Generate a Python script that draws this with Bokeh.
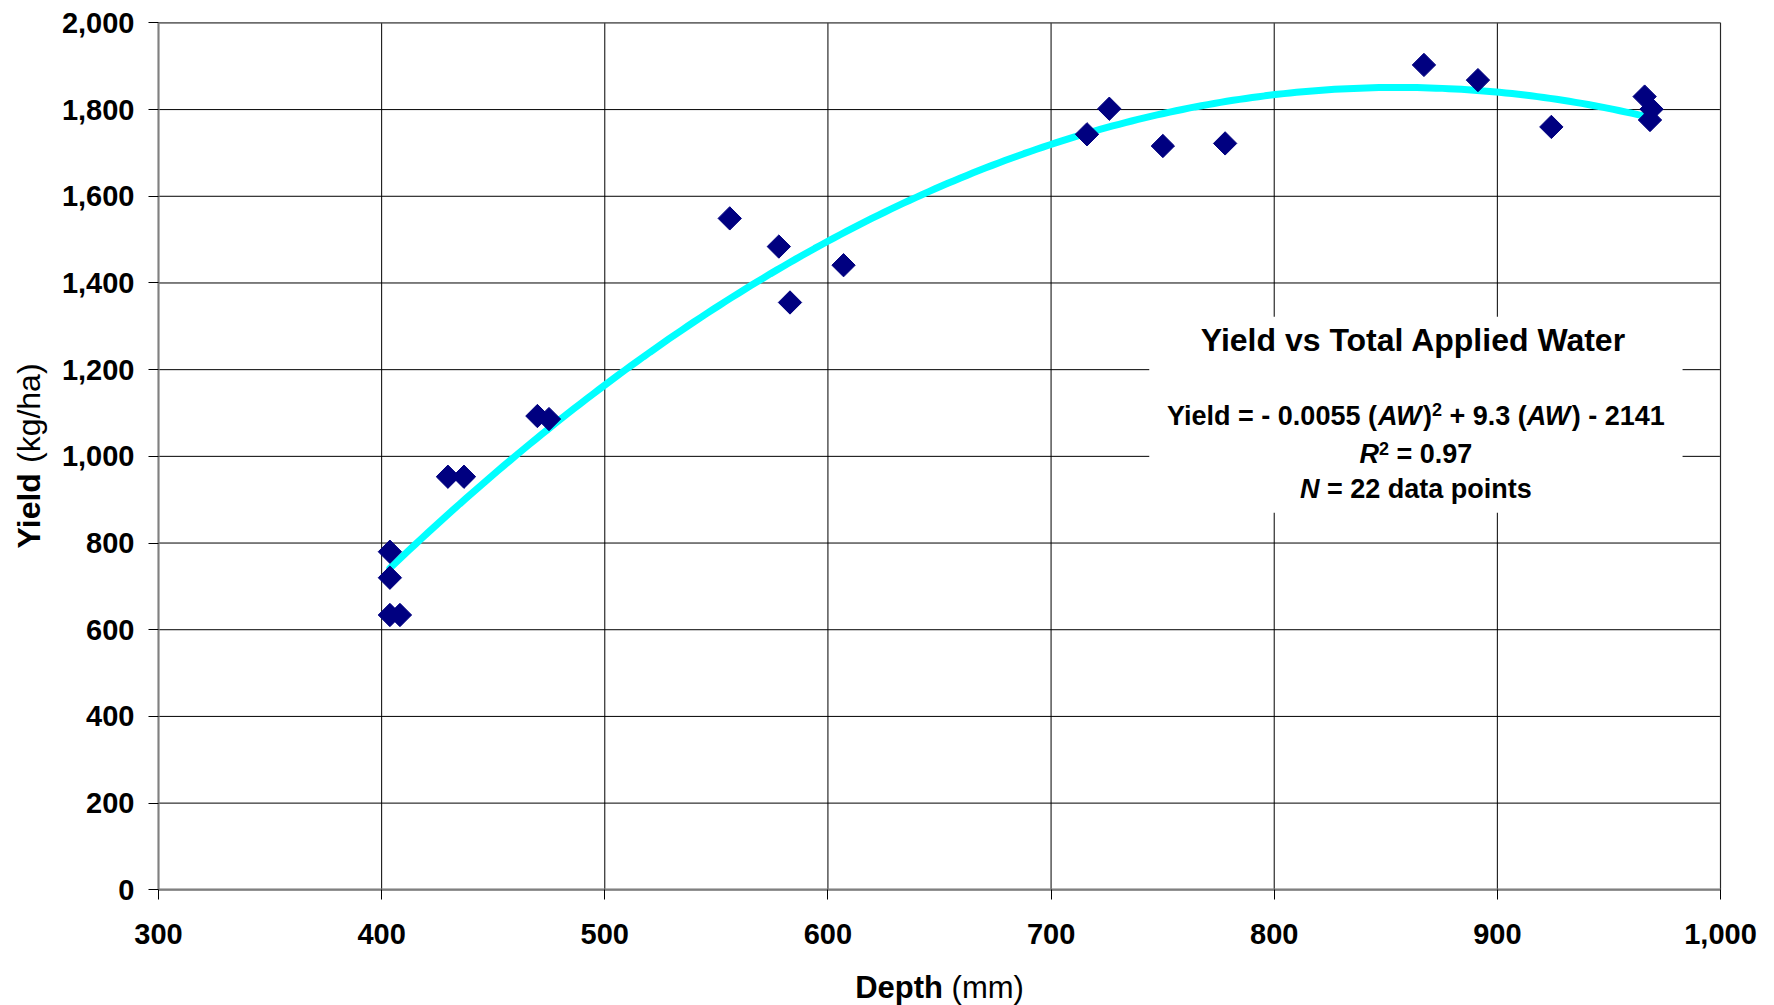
import numpy as np
from bokeh.plotting import figure
from bokeh.models import Range1d, Label, BoxAnnotation, NumeralTickFormatter
from bokeh.embed import file_html
from bokeh.resources import INLINE

# ---- data ----
depth = [403.7, 403.7, 403.7, 408.2, 429.7, 436.9, 469.8, 475.0, 556.0, 578.0, 583.0,
         607.0, 716.1, 726.1, 750.1, 778.0, 867.1, 891.3, 924.2, 966.0, 969.1, 968.4]
yield_kg = [780, 720, 634, 634, 953, 953, 1093, 1086, 1549, 1484, 1355,
            1441, 1743, 1802, 1716, 1722, 1903, 1868, 1760, 1830, 1801, 1776]
x_ticks = [300, 400, 500, 600, 700, 800, 900, 1000]
y_ticks = [0, 200, 400, 600, 800, 1000, 1200, 1400, 1600, 1800, 2000]

box_title = "Yield vs Total Applied Water"
x_label_bold, x_label_reg = "Depth", " (mm)"
y_label_bold, y_label_reg = "Yield", " (kg/ha)"

FONT = "Liberation Sans"

# Arial / Liberation Sans advance widths (1/1000 em)
BOLD_W = {' ': 278, '(': 333, ')': 333, '+': 584, '-': 333, '.': 278, '=': 584, '/': 278,
          'A': 722, 'D': 722, 'N': 722, 'R': 722, 'T': 611, 'W': 944, 'Y': 667,
          'a': 556, 'd': 611, 'e': 556, 'h': 611, 'i': 278, 'l': 278, 'n': 611, 'o': 611,
          'p': 611, 'r': 389, 's': 556, 't': 333, 'v': 556, 'k': 556, 'g': 611, 'm': 889}
REG_W = {' ': 278, '(': 333, ')': 333, 'k': 500, 'g': 556, '/': 278, 'h': 556, 'a': 556,
         'm': 833}
for d in "0123456789":
    BOLD_W[d] = 556
    REG_W[d] = 556


def tw(s, size, style):
    table = REG_W if style == "normal" else BOLD_W
    return sum(table.get(c, 556) for c in s) * size / 1000.0


W, H = 1774, 1005
# pixel placement of the plotting area inside the page
LEFT_PX, RIGHT_PX, TOP_PX, BOTTOM_PX = 158.0, 1720.0, 22.4, 889.3
x0, x1 = x_ticks[0], x_ticks[-1]
y0, y1 = y_ticks[0], y_ticks[-1]
kx = (RIGHT_PX - LEFT_PX) / (x1 - x0)
ky = (BOTTOM_PX - TOP_PX) / (y1 - y0)
x_range = Range1d(x0 - LEFT_PX / kx, x1 + (W - RIGHT_PX) / kx)
y_range = Range1d(y0 - (H - BOTTOM_PX) / ky, y1 + TOP_PX / ky)

p = figure(width=W, height=H, x_range=x_range, y_range=y_range,
           output_backend="svg", toolbar_location=None,
           min_border_left=0, min_border_right=0, min_border_top=0, min_border_bottom=0)
p.background_fill_color = "white"
p.border_fill_color = "white"
p.outline_line_color = None
p.grid.visible = False

for ax in (p.xaxis, p.yaxis):
    ax.axis_line_color = "#808080"
    ax.axis_line_width = 2
    ax.major_tick_line_color = "black"
    ax.major_tick_out = 10
    ax.major_tick_in = 0
    ax.minor_tick_line_color = None
    ax.major_label_text_font = FONT
    ax.major_label_text_font_style = "bold"
    ax.major_label_text_font_size = "29px"
    ax.major_label_text_color = "black"
    ax.formatter = NumeralTickFormatter(format="0,0")
p.xaxis.ticker = x_ticks
p.yaxis.ticker = y_ticks
p.xaxis.bounds = (x0, x1)
p.yaxis.bounds = (y0, y1)
p.xaxis.fixed_location = y0
p.yaxis.fixed_location = x0
p.xaxis.major_label_standoff = 24
p.yaxis.major_label_standoff = 14

# grid lines at the tick values, limited to the plotting area
p.segment(x0=x_ticks, y0=[y0] * len(x_ticks), x1=x_ticks, y1=[y1] * len(x_ticks),
          line_color="black", line_width=1, level="image")
p.segment(x0=[x0] * len(y_ticks), y0=y_ticks, x1=[x1] * len(y_ticks), y1=y_ticks,
          line_color="black", line_width=1, level="image")

# plot-area border
p.add_layout(BoxAnnotation(left=x0, right=x1, bottom=y0, top=y1, fill_alpha=0,
                           line_color="#808080", line_width=2, level="underlay"))

# white box behind the equation text
p.add_layout(BoxAnnotation(left=744, right=983, bottom=870, top=1322,
                           fill_color="white", fill_alpha=1.0, line_color=None,
                           level="underlay"))

# trendline: quadratic least-squares fit of the points
coef = np.polyfit(depth, yield_kg, 2)
xs = np.linspace(min(depth), max(depth), 200)
ys = np.polyval(coef, xs)
p.line(xs, ys, line_color="#00FFFF", line_width=7, line_cap="round")

p.scatter(depth, yield_kg, marker="square", size=16.5, angle=np.pi / 4,
          fill_color="#000080", line_color="#000080")


def add_line(pieces, x, y):
    """pieces: (text, style, size, rise_px)"""
    widths = [tw(t, s, st) for t, st, s, r in pieces]
    off = -sum(widths) / 2.0
    for (t, st, s, r), w in zip(pieces, widths):
        lead = (len(t) - len(t.lstrip(' '))) * 278 * s / 1000.0
        p.add_layout(Label(x=x, y=y, x_offset=off + lead, y_offset=r,
                           text=t.strip(' '), text_font=FONT, text_font_style=st,
                           text_font_size=f"{s}px", text_align="left",
                           text_baseline="middle", text_color="black"))
        off += w


cx = 863.5
add_line([(box_title, "bold", 32, 0)], cx, 1268.7)
add_line([("Yield = - 0.0055 (", "bold", 27, 0), ("AW", "bold italic", 27, 0),
          (")", "bold", 27, 0), ("2", "bold", 18, 6), (" + 9.3 (", "bold", 27, 0),
          ("AW", "bold italic", 27, 0), (") - 2141", "bold", 27, 0)], cx, 1093.8)
add_line([("R", "bold italic", 27, 0), ("2", "bold", 18, 6), (" = 0.97", "bold", 27, 0)],
         cx, 1005)
add_line([("N", "bold italic", 27, 0), (" = 22 data points", "bold", 27, 0)], cx, 924)

# x axis title (bold + regular)
add_line([(x_label_bold, "bold", 31, 0), (x_label_reg, "normal", 31, 0)], 650, -224.5)

# y axis title, rotated
ys_size = 32
wb = tw(y_label_bold, ys_size, "bold")
wr = tw(y_label_reg, ys_size, "normal")
start = -(wb + wr) / 2.0
lead = 278 * ys_size / 1000.0
for txt, style, off in [(y_label_bold, "bold", start),
                        (y_label_reg.strip(), "normal", start + wb + lead)]:
    p.add_layout(Label(x=241.9, y=1001, x_offset=0, y_offset=off,
                       text=txt, text_font=FONT, text_font_style=style,
                       text_font_size=f"{ys_size}px", angle=np.pi / 2, text_align="left",
                       text_baseline="middle", text_color="black"))

open("out.html", "w").write(file_html(p, INLINE))
